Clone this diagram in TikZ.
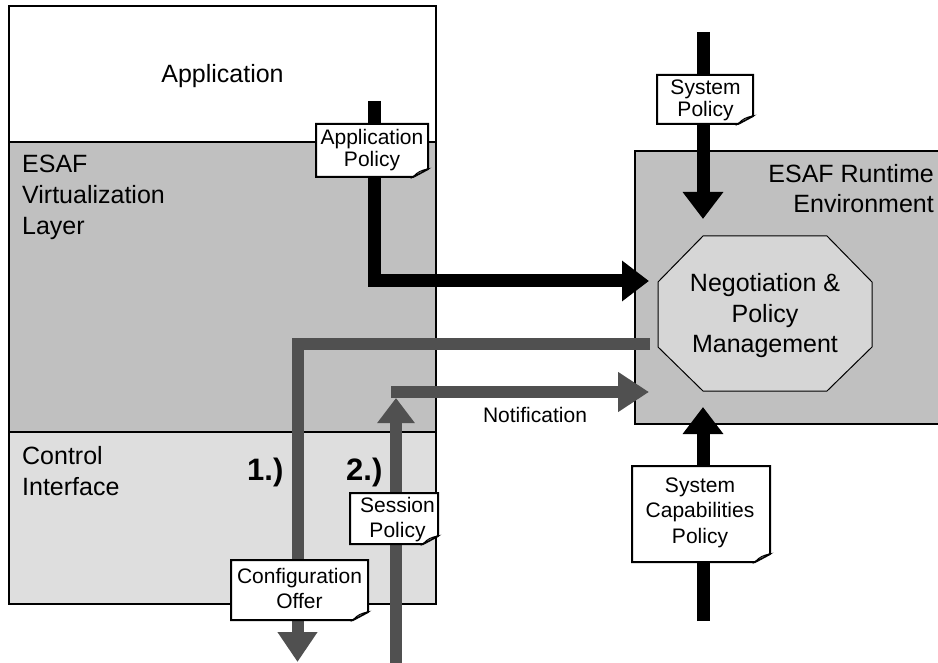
\documentclass[tikz,border=0pt]{standalone}
\usepackage{fontspec}
\setmainfont{Liberation Sans}
\usetikzlibrary{arrows.meta,calc}

\definecolor{layergray}{RGB}{192,192,192}
\definecolor{ctrlgray}{RGB}{222,222,222}
\definecolor{octgray}{RGB}{214,214,214}
\definecolor{flowgray}{RGB}{80,80,80}
\definecolor{foldgray}{RGB}{200,200,200}

% multi-line text whose baseline is the baseline of its first line
\newcommand\stackl[1]{\begin{tabular}[t]{@{}l@{}}#1\end{tabular}}
\newcommand\stackc[1]{\begin{tabular}[t]{@{}c@{}}#1\end{tabular}}
\newcommand\stackr[1]{\begin{tabular}[t]{@{}r@{}}#1\end{tabular}}

% note sheet with a curled bottom-right corner: x1 y1 x2 y2
\newcommand\notepaper[4]{%
  \filldraw[notesheet] (#1,#2) -- (#3,#2) -- (#3,#4-8) -- (#3-15,#4) -- (#1,#4) -- cycle;
  \filldraw[notefold] (#3-15,#4) .. controls (#3-11,#4-5) and (#3-6,#4-7) .. (#3,#4-8) -- cycle;
}

\tikzset{
  frame/.style={draw=black, line width=2pt},
  notesheet/.style={fill=white, draw=black, line width=2pt, line join=miter},
  notefold/.style={fill=foldgray, draw=black, line width=1pt},
  blackflow/.style={draw=black, line width=13pt, line join=miter,
    -{Triangle[length=27pt,width=39pt]}},
  grayflow/.style={draw=flowgray, line width=12pt, line join=miter,
    -{Triangle[length=30pt,width=38pt]}},
  biglabel/.style={inner sep=0pt, font=\fontsize{25}{31}\selectfont},
  notelabel/.style={inner sep=0pt, font=\fontsize{21}{22}\selectfont},
  notelabelwide/.style={inner sep=0pt, font=\fontsize{21}{25}\selectfont},
  steplabel/.style={inner sep=0pt, font=\fontsize{31}{31}\selectfont\bfseries},
}

\begin{document}
\begin{tikzpicture}[x=1pt,y=-1pt]
\useasboundingbox (0,0) rectangle (938,663);
\clip (0,0) rectangle (938,663);

% application stack
\fill[white] (9,6) rectangle (436,142);
\fill[layergray] (9,142) rectangle (436,432);
\fill[ctrlgray] (9,432) rectangle (436,604);
\draw[frame] (9,6) rectangle (436,604);
\draw[frame] (9,142) -- (436,142) (9,432) -- (436,432);

% runtime environment
\filldraw[frame, fill=layergray] (635,151) rectangle (950,424);

% negotiation octagon
\filldraw[fill=octgray, draw=black, line width=1pt]
  (703,236) -- (827,236) -- (872,282) -- (872,347) -- (827,391)
  -- (703,391) -- (658,347) -- (658,282) -- cycle;

% flow end points
\coordinate (apsrc) at (374.5,101);
\coordinate (apdst) at (649,281);
\coordinate (spsrc) at (703,32);
\coordinate (spdst) at (703,219);
\coordinate (scsrc) at (703,621);
\coordinate (scdst) at (703,407);
\coordinate (cosrc) at (650,344.5);
\coordinate (codst) at (297.5,662);
\coordinate (sesrc) at (396,675);
\coordinate (sedst) at (396,398);
\coordinate (nosrc) at (391,392);
\coordinate (nodst) at (649,392);

% policy flows
\draw[blackflow] (apsrc) |- (apdst);
\draw[blackflow] (spsrc) -- (spdst);
\draw[blackflow] (scsrc) -- (scdst);
\draw[grayflow] (cosrc) -| (codst);
\draw[grayflow, -{Triangle[length=25pt,width=36pt]}] (sesrc) -- (sedst);
\draw[grayflow, -{Triangle[length=31pt,width=38pt]}] (nosrc) -- (nodst);

% note sheets
\notepaper{316}{124}{428}{177}
\notepaper{657}{75}{753}{124}
\notepaper{350}{493}{438}{544}
\notepaper{231}{560}{368}{620}
\notepaper{632}{466}{770}{562}

% labels
\node[biglabel, anchor=base] (app) at (222.5,83) {Application};
\node[biglabel, anchor=base west] (virt) at (22,173) {\stackl{ESAF\\Virtualization\\Layer}};
\node[biglabel, anchor=base west] (ctrl) at (22,464) {\stackl{Control\\Interface}};
\node[biglabel, font=\fontsize{25}{30}\selectfont, anchor=base east] (rte) at (934,183)
  {\stackr{ESAF Runtime\\Environment}};
\node[biglabel, font=\fontsize{25}{30.5}\selectfont, anchor=base] (neg) at (765,292)
  {\stackc{Negotiation \&\\Policy\\Management}};

\node[notelabel, anchor=base] (apppol) at (372,145) {\stackc{Application\\Policy}};
\node[notelabel, anchor=base] (syspol) at (705.5,95) {\stackc{System\\Policy}};
\node[notelabelwide, anchor=base] (sesspol) at (397.5,512) {\stackc{Session\\Policy}};
\node[notelabelwide, anchor=base] (confoff) at (299.5,583) {\stackc{Configuration\\Offer}};
\node[notelabelwide, font=\fontsize{21}{25.5}\selectfont, anchor=base] (syscap) at (700,492)
  {\stackc{System\\Capabilities\\Policy}};

\node[inner sep=0pt, font=\fontsize{21}{25}\selectfont, anchor=base] (notif) at (535,422) {Notification};
\node[steplabel, anchor=base west] (stepone) at (247,480) {1.)};
\node[steplabel, anchor=base west] (steptwo) at (346,480) {2.)};
\end{tikzpicture}
\end{document}
